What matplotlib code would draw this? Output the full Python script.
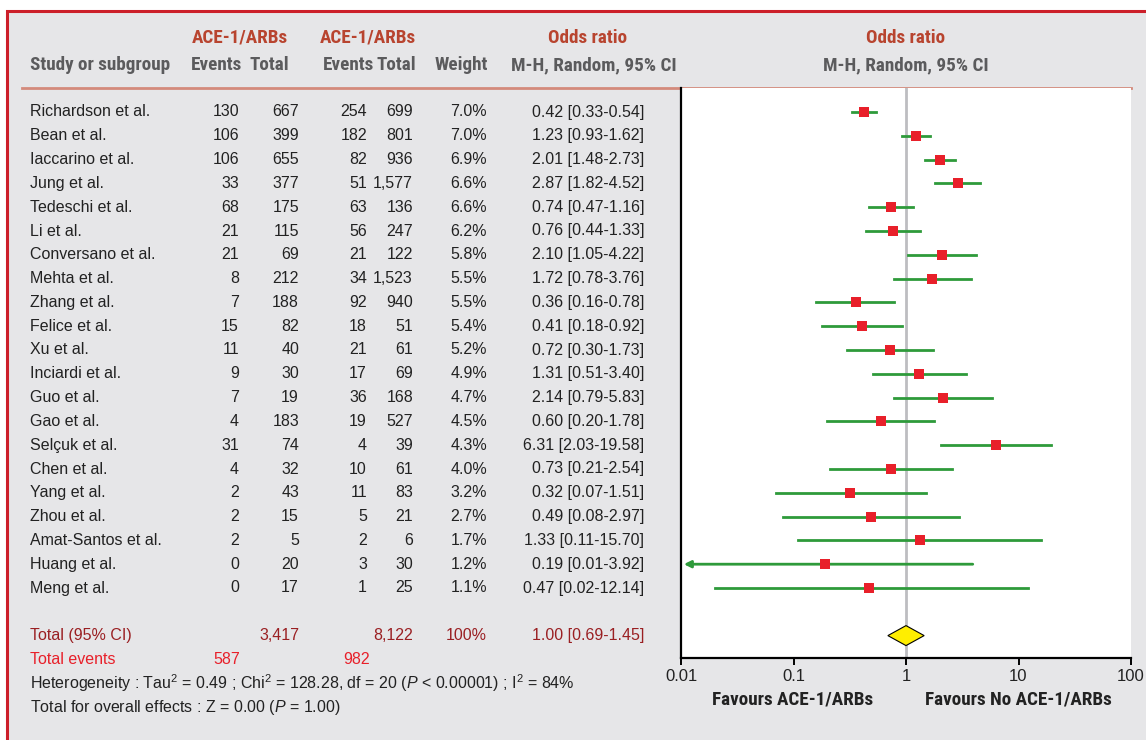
import matplotlib
matplotlib.use("Agg")
import matplotlib.pyplot as plt
import matplotlib.patches as patches
from matplotlib import font_manager as fm
import numpy as np

# --- DATA ---
studies = ["Richardson et al.", "Bean et al.", "Iaccarino et al.", "Jung et al.",
           "Tedeschi et al.", "Li et al.", "Conversano et al.", "Mehta et al.",
           "Zhang et al.", "Felice et al.", "Xu et al.", "Inciardi et al.",
           "Guo et al.", "Gao et al.", "Selçuk et al.", "Chen et al.",
           "Yang et al.", "Zhou et al.", "Amat-Santos et al.", "Huang et al.",
           "Meng et al."]
ev1 = [130, 106, 106, 33, 68, 21, 21, 8, 7, 15, 11, 9, 7, 4, 31, 4, 2, 2, 2, 0, 0]
tot1 = [667, 399, 655, 377, 175, 115, 69, 212, 188, 82, 40, 30, 19, 183, 74, 32, 43, 15, 5, 20, 17]
ev2 = [254, 182, 82, 51, 63, 56, 21, 34, 92, 18, 21, 17, 36, 19, 4, 10, 11, 5, 2, 3, 1]
tot2 = [699, 801, 936, 1577, 136, 247, 122, 1523, 940, 51, 61, 69, 168, 527, 39, 61, 83, 21, 6, 30, 25]
weight = [7.0, 7.0, 6.9, 6.6, 6.6, 6.2, 5.8, 5.5, 5.5, 5.4, 5.2, 4.9, 4.7, 4.5, 4.3, 4.0, 3.2, 2.7, 1.7, 1.2, 1.1]
odds = [0.42, 1.23, 2.01, 2.87, 0.74, 0.76, 2.10, 1.72, 0.36, 0.41, 0.72, 1.31, 2.14, 0.60, 6.31, 0.73, 0.32, 0.49, 1.33, 0.19, 0.47]
ci_lo = [0.33, 0.93, 1.48, 1.82, 0.47, 0.44, 1.05, 0.78, 0.16, 0.18, 0.30, 0.51, 0.79, 0.20, 2.03, 0.21, 0.07, 0.08, 0.11, 0.01, 0.02]
ci_hi = [0.54, 1.62, 2.73, 4.52, 1.16, 1.33, 4.22, 3.76, 0.78, 0.92, 1.73, 3.40, 5.83, 1.78, 19.58, 2.54, 1.51, 2.97, 15.70, 3.92, 12.14]
total_or, total_lo, total_hi = 1.00, 0.69, 1.45
total_n1, total_n2 = 3417, 8122
total_ev1, total_ev2 = 587, 982

BG = "#e6e6e8"
HEAD_RED = "#b8442f"
HEAD_GRAY = "#5b5b5d"
DARK_RED = "#9a1f22"
RED = "#e8202a"
GREEN = "#2e9a3a"
TXT = "#222222"
REG = "Liberation Sans"

plt.rcParams["mathtext.fontset"] = "custom"
plt.rcParams["mathtext.rm"] = REG
plt.rcParams["mathtext.it"] = REG + ":italic"


# bold condensed font for headers, if one is installed
def pick_condensed(size):
    cands = []
    for f in fm.fontManager.ttflist:
        wt = f.weight if isinstance(f.weight, int) else (700 if "bold" in str(f.weight) else 400)
        narrow = (f.stretch in ("condensed", "semi-condensed", "extra-condensed")
                  or "Narrow" in f.name or "Condensed" in f.name
                  or "Condensed" in f.fname or "Narrow" in f.fname)
        if narrow and wt >= 600 and "Oblique" not in f.fname and "Italic" not in f.fname:
            cands.append(f)
    order = ["Liberation Sans Narrow", "Roboto Condensed", "Noto Sans", "Open Sans", "DejaVu Sans"]
    cands.sort(key=lambda f: next((k for k, n in enumerate(order) if n in f.name), 99))
    if cands:
        return fm.FontProperties(fname=cands[0].fname, size=size)
    return fm.FontProperties(family=REG, weight="bold", size=size * 0.86)


HEAD_FP = pick_condensed(13.8)

fig = plt.figure(figsize=(11.46, 7.40), dpi=100)
fig.patch.set_facecolor("white")
W, H = 1146, 740

ax = fig.add_axes([0, 0, 1, 1])
ax.set_xlim(0, W)
ax.set_ylim(H, 0)
ax.axis("off")

ax.add_patch(patches.Rectangle((7, 11), W + 10, H + 10, fc=BG, ec="#cc1f2a", lw=2.2, zorder=0))

# header
hk = dict(fontproperties=HEAD_FP, va="center", ha="center")
ax.text(240, 38, "ACE-1/ARBs", color=HEAD_RED, **hk)
ax.text(368, 38, "ACE-1/ARBs", color=HEAD_RED, **hk)
ax.text(588, 38, "Odds ratio", color=HEAD_RED, **hk)
ax.text(906, 38, "Odds ratio", color=HEAD_RED, **hk)
ax.text(30, 65, "Study or subgroup", color=HEAD_GRAY, **{**hk, "ha": "left"})
ax.text(217, 65, "Events", color=HEAD_GRAY, **hk)
ax.text(269, 65, "Total", color=HEAD_GRAY, **hk)
ax.text(348, 65, "Events", color=HEAD_GRAY, **hk)
ax.text(396, 65, "Total", color=HEAD_GRAY, **hk)
ax.text(461, 65, "Weight", color=HEAD_GRAY, **hk)
ax.text(594, 65, "M-H, Random, 95% CI", color=HEAD_GRAY, **hk)
ax.text(906, 65, "M-H, Random, 95% CI", color=HEAD_GRAY, **hk)
ax.plot([22, 1131], [88, 88], color="#d48a7c", lw=2, zorder=2)


def row_y(i):
    return 112 + 23.8 * i


tk = dict(fontfamily=REG, fontsize=11.5, va="center", color=TXT)
for i, name in enumerate(studies):
    y = row_y(i)
    ax.text(30, y, name, ha="left", **tk)
    ax.text(239, y, f"{ev1[i]:,}", ha="right", **tk)
    ax.text(299, y, f"{tot1[i]:,}", ha="right", **tk)
    ax.text(367, y, f"{ev2[i]:,}", ha="right", **tk)
    ax.text(413, y, f"{tot2[i]:,}", ha="right", **tk)
    ax.text(487, y, f"{weight[i]:.1f}%", ha="right", **tk)
    ax.text(644, y, f"{odds[i]:.2f} [{ci_lo[i]:.2f}-{ci_hi[i]:.2f}]", ha="right", **tk)

yt = row_y(22)
tr = {**tk, "color": DARK_RED}
ax.text(30, yt, "Total (95% CI)", ha="left", **tr)
ax.text(299, yt, f"{total_n1:,}", ha="right", **tr)
ax.text(413, yt, f"{total_n2:,}", ha="right", **tr)
ax.text(487, yt, "100%", ha="right", **tr)
ax.text(644, yt, f"{total_or:.2f} [{total_lo:.2f}-{total_hi:.2f}]", ha="right", **tr)
ye = yt + 24
te = {**tk, "color": RED}
ax.text(30, ye, "Total events", ha="left", **te)
ax.text(240, ye, f"{total_ev1}", ha="right", **te)
ax.text(370, ye, f"{total_ev2}", ha="right", **te)
ax.text(30, ye + 24, r"Heterogeneity : Tau$^2$ = 0.49 ; Chi$^2$ = 128.28, df = 20 ($P$ < 0.00001) ; I$^2$ = 84%",
        ha="left", **tk)
ax.text(30, ye + 48, r"Total for overall effects : Z = 0.00 ($P$ = 1.00)", ha="left", **tk)

# --- forest axes ---
L, R, T, B = 681, 1131, 88, 658
fax = fig.add_axes([L / W, 1 - B / H, (R - L) / W, (B - T) / H])
fax.set_facecolor("white")
fax.set_xscale("log")
fax.set_xlim(0.01, 100)
fax.set_ylim((B - 112) / 23.8, (T - 112) / 23.8)
for s in ["top", "right"]:
    fax.spines[s].set_visible(False)
fax.spines["left"].set_linewidth(1.6)
fax.spines["bottom"].set_linewidth(1.6)
fax.set_yticks([])
fax.set_xticks([0.01, 0.1, 1, 10, 100])
fax.set_xticklabels(["0.01", "0.1", "1", "10", "100"], fontfamily=REG, fontsize=12, color=TXT)
fax.minorticks_off()
fax.tick_params(axis="x", direction="out", length=5, width=1.4, pad=3)
fax.axvline(1, color="#bdbdc1", lw=2, zorder=1)

rows = np.arange(len(studies))
for i in rows:
    if ci_lo[i] <= 0.01:
        fax.annotate("", xy=(0.0106, i), xytext=(ci_hi[i], i),
                     arrowprops=dict(arrowstyle="-|>", color=GREEN, lw=2, mutation_scale=10,
                                     shrinkA=0, shrinkB=0), zorder=3)
    else:
        fax.plot([ci_lo[i], ci_hi[i]], [i, i], color=GREEN, lw=2, zorder=3)
fax.scatter(odds, rows, marker="s", s=50, color=RED, zorder=4, linewidths=0)

dy = 0.42
fax.add_patch(patches.Polygon([(total_lo, 22), (total_or, 22 - dy), (total_hi, 22), (total_or, 22 + dy)],
                              closed=True, fc="#ffee00", ec="black", lw=0.8, zorder=5))

fk = dict(fontproperties=HEAD_FP, va="center", ha="center", color="#222222")
ax.text(793, 700, "Favours ACE-1/ARBs", **fk)
ax.text(1018, 700, "Favours No ACE-1/ARBs", **fk)

fig.savefig("out.png", dpi=100, facecolor=fig.get_facecolor())
